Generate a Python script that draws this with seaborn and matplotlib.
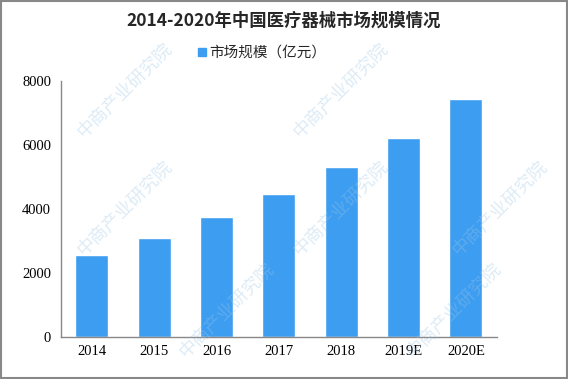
import pandas as pd
import seaborn as sns
import matplotlib.pyplot as plt
from matplotlib.patches import Rectangle
from matplotlib.lines import Line2D

sns.set_style("white")
plt.rcParams["font.family"] = ["Noto Sans CJK SC", "DejaVu Sans"]

## Data
years = ["2014", "2015", "2016", "2017", "2018", "2019E", "2020E"]
market_size = [2570, 3090, 3730, 4450, 5320, 6200, 7420]
series_name = "市场规模（亿元）"
title = "2014-2020年中国医疗器械市场规模情况"
watermark = "中商产业研究院"

df = pd.DataFrame({"year": years, "value": market_size})

## Plot
fig = plt.figure(figsize=(5.68, 3.79), dpi=100)
ax = fig.add_axes([0.107, 0.111, 0.768, 0.676])

bar_color = "#3d9df1"
sns.barplot(data=df, x="year", y="value", color=bar_color, saturation=1,
            width=0.53, ax=ax)

# faint watermark, diagonal, repeated (kept inside the frame)
for wx, wy in [(0.22, 0.76), (0.60, 0.76), (0.22, 0.45), (0.60, 0.45),
               (0.88, 0.45), (0.40, 0.18), (0.80, 0.18)]:
    fig.text(wx, wy, watermark, rotation=45, fontsize=13, color="#9cc6e6",
             alpha=0.35, ha="center", va="center", zorder=5)

ax.set_ylim(0, 8000)
ax.set_yticks([0, 2000, 4000, 6000, 8000])
ax.set_xlim(-0.5, len(years) - 0.5)
ax.set_xlabel("")
ax.set_ylabel("")

# labels centred under bars, tick marks at category edges
ax.tick_params(axis="x", which="major", length=0, pad=6)
ax.set_xticks([i - 0.5 for i in range(len(years) + 1)], minor=True)
ax.tick_params(axis="x", which="minor", length=5, color="#888888", direction="out")
ax.tick_params(axis="y", length=4, color="#888888", direction="out", pad=3)
for lab in ax.get_xticklabels() + ax.get_yticklabels():
    lab.set_fontfamily(["Liberation Serif", "DejaVu Serif"])
    lab.set_fontsize(10.5)
    lab.set_color("black")

sns.despine(ax=ax)
for side in ["left", "bottom"]:
    ax.spines[side].set_color("#888888")
    ax.spines[side].set_linewidth(1)

fig.text(0.5, 0.945, title, ha="center", va="center", fontsize=12.5,
         fontweight="bold")

handle = Line2D([], [], marker="s", linestyle="none", markersize=6,
                markerfacecolor=bar_color, markeredgecolor=bar_color)
fig.legend([handle], [series_name], loc="center", bbox_to_anchor=(0.46, 0.86),
           frameon=False, fontsize=10.5, handletextpad=0.1, handlelength=0.8)

fig.patches.append(Rectangle((0.001, 0.002), 0.997, 0.995, transform=fig.transFigure,
                             fill=False, edgecolor="#888888", linewidth=1.5))

plt.savefig("out.png", dpi=100)
